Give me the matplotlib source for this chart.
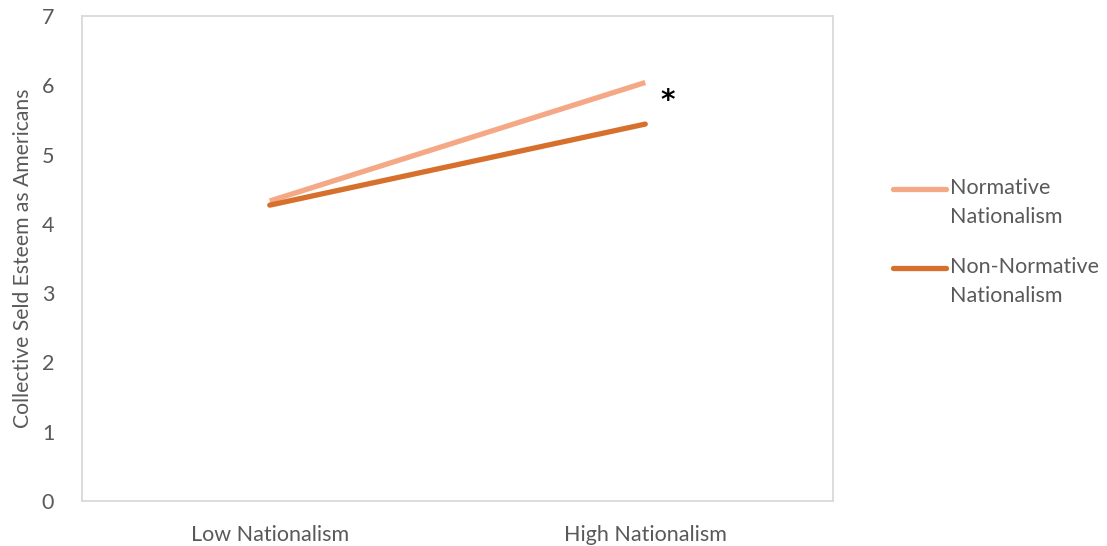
import matplotlib
matplotlib.use("Agg")
import matplotlib.pyplot as plt
from matplotlib.lines import Line2D

categories = ["Low Nationalism", "High Nationalism"]
series_names = ["Normative\nNationalism", "Non-Normative\nNationalism"]
normative = [4.33, 6.04]
non_normative = [4.27, 5.44]
yticks = [0, 1, 2, 3, 4, 5, 6, 7]
colors = ["#F4A886", "#D6702C"]
ylabel = "Collective Seld Esteem as Americans"

plt.rcParams['font.family'] = ['Lato', 'DejaVu Sans']
txt = "#595959"

fig = plt.figure(figsize=(11.07, 5.46), dpi=100)
ax = fig.add_axes([82/1107, 45/546, (833-82)/1107, (501-16)/546])

x = list(range(len(categories)))
ax.plot(x, normative, color=colors[0], lw=3.8, solid_capstyle='butt')
ax.plot(x, non_normative, color=colors[1], lw=3.8, solid_capstyle='round')
ax.text(1.06, 5.78, "*", fontsize=20, fontweight='bold', ha='center', va='center',
        color='black', family='DejaVu Sans')

ax.set_xlim(-0.5, 1.5)
ax.set_ylim(0, 7)
ax.set_yticks(yticks)
ax.set_yticklabels([str(v) for v in yticks])
ax.set_xticks(x)
ax.set_xticklabels(categories)
ax.tick_params(axis='both', length=0, labelsize=15.5, colors=txt)
ax.tick_params(axis='y', pad=20)
ax.tick_params(axis='x', pad=17)
for s in ax.spines.values():
    s.set_color("#D9D9D9")
    s.set_linewidth(1.3)
ax.set_ylabel(ylabel, fontsize=15.2, color=txt, labelpad=6)

# legend
ys = [189, 268]
for name, c, yy in zip(series_names, colors, ys):
    fy = 1 - yy/546
    fig.add_artist(Line2D([893/1107, 946/1107], [fy, fy], color=c, lw=3.8,
                          solid_capstyle='round', transform=fig.transFigure))
    fig.text(950/1107, fy + 11/546, name, fontsize=15.5, color=txt, va='top', ha='left',
             linespacing=1.55)

fig.savefig("out.png", dpi=100)
